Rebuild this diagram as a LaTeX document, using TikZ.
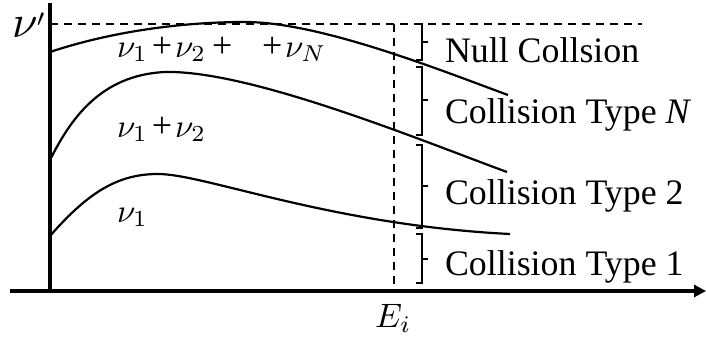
\documentclass[tikz,border=0pt]{standalone}
\usepackage{graphicx}
\usepackage{fontspec}
\setmainfont{Liberation Serif}
\usetikzlibrary{arrows.meta}
\newcommand\bigmath[1]{\scalebox{3.4}{\normalsize$#1$}}
\newcommand\vsub[1]{\scalebox{3.3}{\normalsize$\nu_{#1}$}}
\begin{document}
\begin{tikzpicture}[x=1bp,y=-1bp,
  every node/.style={inner sep=0pt,outer sep=0pt,font=\fontsize{36}{40}\selectfont},
  axisline/.style={line width=3.6bp},
  curveline/.style={line width=2.2bp},
  dashline/.style={line width=2.5bp,dash pattern=on 8bp off 6bp},
  bracestyle/.style={line width=2.2bp,line cap=butt,line join=miter}]
\useasboundingbox (0,0) rectangle (706,343);
% axes
\coordinate (o) at (50,291);
\coordinate (ytop) at (50,3);
\coordinate (xleft) at (10,291);
\coordinate (xright) at (706,291);
\draw[axisline] (o) -- (ytop);
\draw[axisline,-{Triangle[length=12bp,width=12bp]}] (xleft) -- (xright);
% dashed lines
\coordinate (dl) at (50,24);
\coordinate (dr) at (642,24);
\coordinate (vt) at (394,24);
\coordinate (vb) at (394,291);
\draw[dashline] (dl) -- (dr);
\draw[dashline] (vt) -- (vb);
% curves
\draw[curveline] (50,52) .. controls (110,32) and (180,22) .. (245,22)
  .. controls (320,22) and (440,70) .. (508,95);
\draw[curveline] (50,160) .. controls (70,120) and (100,75) .. (165,72)
  .. controls (250,70) and (420,140) .. (507,172);
\draw[curveline] (50,236) .. controls (90,190) and (120,174) .. (158,174)
  .. controls (205,174) and (330,225) .. (510,234);
% braces
\foreach \ya/\yb/\ym in {24/60/42, 67/135/100, 145/228/186, 234/283/259}{
  \draw[bracestyle] (416,\ya) -- (422,\ya) -- (422,\yb) -- (416,\yb);
  \draw[bracestyle] (422,\ym) -- (428,\ym);
}
% labels
\node[anchor=base west] (l0) at (445,62) {Null Collsion};
\node[anchor=base west] (l1) at (445,123) {Collision Type \textit{N}};
\node[anchor=base west] (l2) at (445,204) {Collision Type 2};
\node[anchor=base west] (l3) at (445,275) {Collision Type 1};
% axis labels
\node[anchor=base west] (vp) at (12,37) {\scalebox{4.6}{\normalsize$\nu$}\kern-1bp\raisebox{11bp}{\scalebox{3.5}{\normalsize$\scriptstyle\prime$}}};
\node[anchor=base west] (ei) at (375,327) {\bigmath{E_i}};
% region labels
\node[anchor=base west] (r1a) at (117,57) {\vsub{1}\kern4bp+\kern3bp\vsub{2}\kern6bp+};
\node[anchor=base west] (r1b) at (262,57) {+\kern3bp\vsub{N}};
\node[anchor=base west] (r2) at (117,137) {\vsub{1}\kern4bp+\kern3bp\vsub{2}};
\node[anchor=base west] (r3) at (117,222) {\vsub{1}};
\end{tikzpicture}
\end{document}
